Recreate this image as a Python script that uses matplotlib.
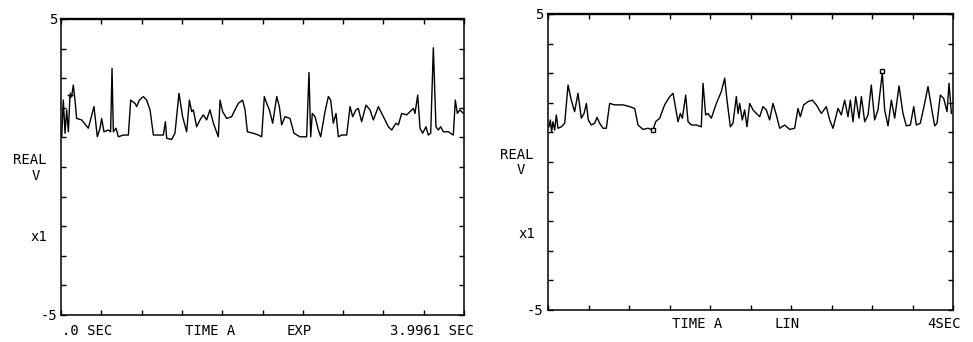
import numpy as np
import matplotlib
matplotlib.use("Agg")
import matplotlib.pyplot as plt

# left trace: time (sec), real voltage (V), exp averaging
t_exp = [0.007, 0.023, 0.040, 0.056, 0.073, 0.089, 0.106, 0.122, 0.139, 0.155,
         0.205, 0.271, 0.327, 0.360, 0.387, 0.403, 0.426, 0.469, 0.492, 0.506,
         0.519, 0.545, 0.569, 0.618, 0.668, 0.691, 0.734, 0.750, 0.777, 0.816,
         0.849, 0.883, 0.916, 1.015, 1.035, 1.048, 1.097, 1.130, 1.170, 1.206,
         1.246, 1.273, 1.296, 1.312, 1.345, 1.378, 1.411, 1.444, 1.477, 1.511,
         1.560, 1.577, 1.603, 1.643, 1.692, 1.725, 1.758, 1.801, 1.825, 1.848,
         1.907, 1.957, 1.990, 2.016, 2.040, 2.066, 2.099, 2.139, 2.165, 2.188,
         2.221, 2.271, 2.310, 2.370, 2.436, 2.459, 2.476, 2.492, 2.519, 2.552,
         2.575, 2.618, 2.651, 2.674, 2.700, 2.727, 2.750, 2.783, 2.833, 2.866,
         2.892, 2.925, 2.948, 2.981, 3.024, 3.064, 3.097, 3.147, 3.180, 3.213,
         3.246, 3.279, 3.322, 3.345, 3.378, 3.428, 3.494, 3.510, 3.537, 3.560,
         3.586, 3.619, 3.642, 3.666, 3.692, 3.718, 3.742, 3.765, 3.791, 3.841,
         3.890, 3.910, 3.930, 3.956, 3.990]
v_exp = [1.02, 2.26, 1.14, 1.93, 1.19, 2.43, 2.38, 2.77, 2.26, 1.64,
         1.59, 1.31, 2.04, 1.02, 1.31, 1.64, 1.19, 1.25, 1.19, 3.33,
         1.19, 1.31, 1.02, 1.08, 1.08, 2.26, 2.15, 2.04, 2.26, 2.38,
         2.26, 1.93, 1.08, 1.08, 1.53, 0.97, 0.93, 1.14, 2.49, 1.70,
         1.19, 2.26, 1.87, 1.93, 1.36, 1.59, 1.76, 1.59, 1.93, 1.48,
         1.02, 2.26, 1.87, 1.64, 1.70, 1.93, 2.15, 2.26, 1.93, 1.19,
         1.14, 1.08, 1.02, 2.38, 2.15, 1.93, 1.48, 2.38, 2.04, 1.42,
         1.70, 1.64, 1.14, 1.02, 1.02, 3.19, 1.02, 1.81, 1.70, 1.25,
         1.02, 1.87, 2.38, 2.26, 1.48, 1.81, 1.02, 1.08, 1.08, 2.04,
         1.70, 1.93, 1.98, 1.53, 2.09, 1.93, 1.59, 2.04, 1.81, 1.59,
         1.36, 1.25, 1.48, 1.42, 1.81, 1.76, 1.98, 1.81, 2.43, 1.31,
         1.14, 1.36, 1.08, 1.14, 4.03, 1.36, 1.25, 1.36, 1.19, 1.19,
         1.08, 2.26, 1.81, 1.93, 1.81]

# right trace: time (sec), real voltage (V), lin averaging
t_lin = [0.010, 0.023, 0.036, 0.049, 0.066, 0.082, 0.099, 0.132, 0.165, 0.198,
         0.230, 0.263, 0.296, 0.329, 0.356, 0.379, 0.398, 0.428, 0.461, 0.484,
         0.510, 0.543, 0.576, 0.609, 0.658, 0.741, 0.807, 0.856, 0.889, 0.938,
         0.988, 1.037, 1.063, 1.103, 1.152, 1.202, 1.235, 1.261, 1.284, 1.307,
         1.327, 1.360, 1.383, 1.416, 1.465, 1.514, 1.531, 1.557, 1.580, 1.613,
         1.663, 1.712, 1.745, 1.768, 1.801, 1.827, 1.860, 1.877, 1.893, 1.919,
         1.942, 1.965, 1.992, 2.025, 2.058, 2.091, 2.123, 2.156, 2.189, 2.222,
         2.255, 2.288, 2.337, 2.387, 2.436, 2.469, 2.492, 2.525, 2.568, 2.611,
         2.650, 2.700, 2.749, 2.782, 2.815, 2.864, 2.897, 2.930, 2.963, 2.986,
         3.012, 3.039, 3.072, 3.095, 3.128, 3.161, 3.193, 3.226, 3.259, 3.302,
         3.325, 3.358, 3.391, 3.424, 3.467, 3.506, 3.539, 3.579, 3.612, 3.638,
         3.677, 3.720, 3.753, 3.786, 3.819, 3.842, 3.875, 3.908, 3.941, 3.961,
         3.984]
v_lin = [1.19, 1.42, 1.02, 1.36, 1.08, 1.59, 1.14, 1.19, 1.31, 2.60,
         2.09, 1.70, 2.32, 1.48, 1.64, 1.98, 1.42, 1.25, 1.31, 1.51,
         1.31, 1.14, 1.14, 1.98, 1.93, 1.93, 1.87, 1.81, 1.25, 1.10,
         1.14, 1.08, 1.36, 1.48, 1.93, 2.21, 2.32, 1.81, 1.36, 1.64,
         1.48, 2.26, 1.36, 1.25, 1.25, 1.19, 2.66, 1.59, 1.64, 1.48,
         1.98, 2.38, 2.83, 2.09, 1.19, 1.31, 2.21, 1.64, 1.98, 1.42,
         1.76, 1.19, 1.98, 1.76, 1.64, 1.53, 1.87, 1.76, 1.42, 1.98,
         1.59, 1.14, 1.25, 1.10, 1.14, 1.81, 1.53, 1.93, 2.04, 2.09,
         1.93, 1.64, 1.87, 1.42, 1.14, 1.81, 1.59, 2.09, 1.53, 2.09,
         1.36, 2.21, 1.48, 2.21, 1.36, 1.59, 2.60, 1.42, 1.76, 3.02,
         1.76, 1.22, 2.09, 1.48, 2.57, 1.64, 1.22, 1.25, 1.87, 1.25,
         1.31, 1.98, 2.55, 1.87, 1.22, 1.31, 2.26, 2.15, 1.70, 2.66,
         1.64]

# marker (cursor) positions on the right trace
mark_t = [1.037, 3.302]
mark_v = [1.08, 3.06]

W, H = 973, 342
fig = plt.figure(figsize=(W / 100, H / 100), dpi=100)
mono = "DejaVu Sans Mono"


def px(x, y):
    return x / W, 1 - y / H


def setup(ax, tmax):
    ax.set_xlim(0, tmax)
    ax.set_ylim(-5, 5)
    ax.set_xticks(np.linspace(0, tmax, 11))
    ax.set_yticks(np.arange(-5, 6, 1))
    ax.set_xticklabels([])
    ax.set_yticklabels([])
    ax.tick_params(direction="in", length=3.5, width=1, top=True, right=True, color="black")
    for s in ax.spines.values():
        s.set_linewidth(1.1)
    ax.spines["top"].set_linewidth(1.7)


ax1 = fig.add_axes([61 / W, 1 - 315 / H, (464 - 61) / W, (315 - 19) / H])
setup(ax1, 3.9961)
ax1.plot(t_exp, v_exp, color="black", lw=1.0)
ax1.plot(t_exp[5], v_exp[5], marker="+", ms=4, color="black", mew=1)

ax2 = fig.add_axes([548 / W, 1 - 310 / H, (953 - 548) / W, (310 - 14) / H])
setup(ax2, 4.0)
ax2.plot(t_lin, v_lin, color="black", lw=1.0)
ax2.plot(mark_t, mark_v, ls="none", marker="s", ms=3.5, mfc="white", mec="black", mew=1)

fs = 10
txt = [
    (57, 20, "5", "right"), (57, 316, "-5", "right"),
    (30, 160, "REAL", "center"), (36, 176, "V", "center"), (39, 237, "x1", "center"),
    (62, 331, ".0 SEC", "left"), (185, 331, "TIME A", "left"),
    (287, 331, "EXP", "left"), (390, 331, "3.9961 SEC", "left"),
    (543, 15, "5", "right"), (543, 311, "-5", "right"),
    (517, 155, "REAL", "center"), (521, 170, "V", "center"), (527, 234, "x1", "center"),
    (672, 324, "TIME A", "left"), (775, 324, "LIN", "left"), (927, 324, "4SEC", "left"),
]
for x, y, s, ha in txt:
    fig.text(*px(x, y), s, ha=ha, va="center", fontsize=fs, family=mono)

fig.savefig("out.png", dpi=100, facecolor="white")
